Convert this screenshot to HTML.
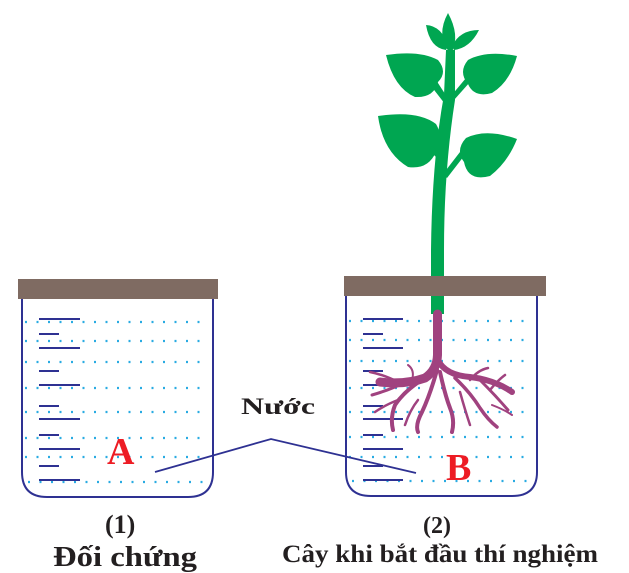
<!DOCTYPE html>
<html><head><meta charset="utf-8"><style>body{margin:0;background:#fff}svg{display:block}
.t{font-family:"Liberation Serif","Times New Roman",serif;font-weight:bold}</style></head><body>
<svg width="629" height="573" viewBox="0 0 629 573" xmlns="http://www.w3.org/2000/svg">
<g stroke="#29abe2" stroke-width="2.2" stroke-dasharray="2 9.5" fill="none">
<line x1="25" y1="322" x2="205" y2="322"/><line x1="25" y1="341" x2="205" y2="341"/>
<line x1="25" y1="362" x2="205" y2="362"/><line x1="25" y1="388" x2="205" y2="388"/>
<line x1="25" y1="412" x2="205" y2="412"/><line x1="25" y1="438" x2="205" y2="438"/>
<line x1="25" y1="457" x2="205" y2="457"/><line x1="28" y1="482" x2="205" y2="482"/>
<line x1="349" y1="321" x2="530" y2="321"/><line x1="349" y1="340" x2="530" y2="340"/>
<line x1="349" y1="361" x2="530" y2="361"/><line x1="349" y1="388" x2="530" y2="388"/>
<line x1="349" y1="412" x2="530" y2="412"/><line x1="349" y1="437" x2="530" y2="437"/>
<line x1="349" y1="457" x2="530" y2="457"/><line x1="352" y1="481" x2="530" y2="481"/>
</g>
<g stroke="#2e3192" stroke-width="2" fill="none">
<path d="M22 299 V472 Q22 497 47 497 H188 Q213 497 213 472 V299"/>
<line x1="39" y1="319" x2="80" y2="319"/><line x1="39" y1="334" x2="59" y2="334"/>
<line x1="39" y1="348" x2="80" y2="348"/><line x1="39" y1="371" x2="59" y2="371"/>
<line x1="39" y1="385" x2="80" y2="385"/><line x1="39" y1="406" x2="59" y2="406"/>
<line x1="39" y1="419" x2="80" y2="419"/><line x1="39" y1="435" x2="59" y2="435"/>
<line x1="39" y1="449" x2="80" y2="449"/><line x1="39" y1="466" x2="59" y2="466"/>
<line x1="39" y1="480" x2="80" y2="480"/>
<path d="M346 296 V472 Q346 496 371 496 H512 Q537 496 537 472 V296"/>
<line x1="363" y1="319" x2="403" y2="319"/><line x1="363" y1="334" x2="383" y2="334"/>
<line x1="363" y1="348" x2="403" y2="348"/><line x1="363" y1="371" x2="383" y2="371"/>
<line x1="363" y1="385" x2="403" y2="385"/><line x1="363" y1="406" x2="383" y2="406"/>
<line x1="363" y1="419" x2="403" y2="419"/><line x1="363" y1="435" x2="383" y2="435"/>
<line x1="363" y1="449" x2="403" y2="449"/><line x1="363" y1="466" x2="383" y2="466"/>
<line x1="363" y1="480" x2="403" y2="480"/>
<polyline points="155,472 271,439 416,473" stroke-width="1.8"/>
</g>
<rect x="18" y="279" width="200" height="20" fill="#7f6b62"/>
<g fill="#00a651" stroke="none">
<path d="M431 314 L431 250 Q432 160 444 95 L446 50 L455 50 L455 100 Q444 170 444 250 L444 314 Z"/>
<path d="M449 52 Q436 35 448 13 Q460 35 452 52 Z"/>
<path d="M446 50 Q430 48 426 25 Q442 26 448 46 Z"/>
<path d="M454 50 Q470 48 479 30 Q460 30 452 46 Z"/>
<path d="M386 55 Q420 50 438 60 Q448 72 438 82 Q434 98 415 97 Q394 88 386 55 Z"/>
<path d="M436 80 L449 100 L445 104 L431 86 Z"/>
<path d="M517 56 Q486 50 468 60 Q458 72 468 84 Q474 98 492 93 Q510 82 517 56 Z"/>
<path d="M470 82 L454 100 L451 96 L466 78 Z"/>
<path d="M378 116 Q418 110 436 124 Q446 142 436 152 Q428 170 408 167 Q383 152 378 116 Z"/>
<path d="M432 146 L444 158 L441 162 L429 150 Z"/>
<path d="M517 139 Q486 128 466 138 Q455 150 464 162 Q468 182 490 176 Q508 162 517 139 Z"/>
<path d="M464 156 L447 178 L443 174 L460 152 Z"/>
</g>
<rect x="344" y="276" width="202" height="20" fill="#7f6b62"/>
<rect x="432" y="296" width="11" height="18" fill="#00a651"/>
<g stroke="#a0427f" fill="none" stroke-linecap="round">
<path d="M437.5 314 V355 Q437 370 425 378 Q405 385 380 382" stroke-width="9"/>
<path d="M438 360 Q445 375 470 377 Q495 380 512 392" stroke-width="6"/>
<path d="M425 378 Q405 390 395 405 Q390 418 393 430" stroke-width="4"/>
<path d="M437 370 Q430 395 422 412 Q415 425 418 432" stroke-width="4"/>
<path d="M440 372 Q445 395 450 408 Q455 420 452 432" stroke-width="4"/>
<path d="M455 378 Q470 392 480 408 Q488 420 497 427" stroke-width="3.5"/>
<path d="M480 380 Q495 395 508 410" stroke-width="3"/>
<path d="M410 380 Q390 390 372 395" stroke-width="3"/>
<path d="M400 383 Q385 375 370 372" stroke-width="2.5"/>
<path d="M398 400 Q385 405 375 412" stroke-width="2.5"/>
<path d="M418 400 Q410 410 405 425" stroke-width="2.5"/>
<path d="M460 392 Q465 410 470 425" stroke-width="2.5"/>
<path d="M490 390 Q498 380 505 375" stroke-width="2.5"/>
<path d="M470 380 Q478 370 488 368" stroke-width="2.5"/>
<path d="M412 380 Q415 370 408 365" stroke-width="2"/>
<path d="M492 405 Q505 410 512 415" stroke-width="2"/>
</g>
<text class="t" x="107" y="464" font-size="38" fill="#ed1c24">A</text>
<text class="t" x="446" y="480" font-size="38" fill="#ed1c24">B</text>
<text class="t" x="241" y="414" font-size="23" fill="#231f20" textLength="74" lengthAdjust="spacingAndGlyphs">Nước</text>
<text class="t" x="105" y="533" font-size="26" fill="#231f20">(1)</text>
<text class="t" x="53" y="566" font-size="29" fill="#231f20" textLength="144" lengthAdjust="spacingAndGlyphs">Đối chứng</text>
<text class="t" x="423" y="533" font-size="24" fill="#231f20">(2)</text>
<text class="t" x="282" y="562" font-size="25" fill="#231f20" textLength="316" lengthAdjust="spacingAndGlyphs">Cây khi bắt đầu thí nghiệm</text>
</svg>
</body></html>
